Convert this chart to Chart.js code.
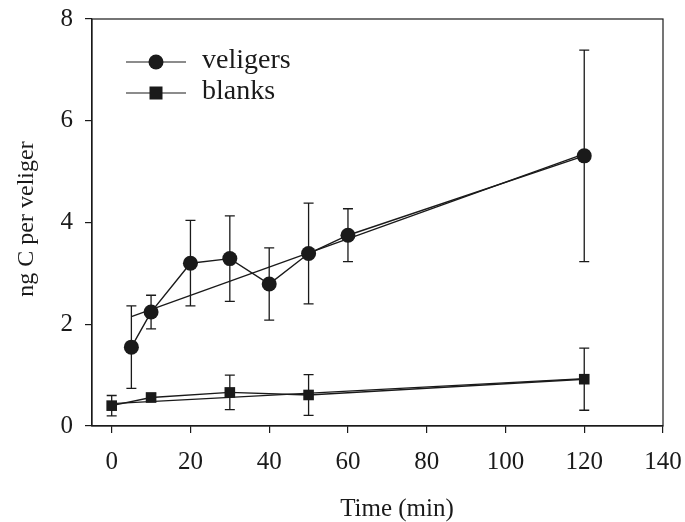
<!DOCTYPE html>
<html>
<head>
<meta charset="utf-8">
<script src="https://cdn.jsdelivr.net/npm/chart.js@4.4.1/dist/chart.umd.min.js"></script>
<style>
  html, body { margin: 0; padding: 0; background: #fff; }
  #wrap { width: 685px; height: 522px; }
</style>
</head>
<body>
<div id="wrap"><canvas id="c" width="685" height="522"></canvas></div>
<script>
// ---- data ----
const veligerTimes = [5, 10, 20, 30, 40, 50, 60, 120];
const veligerMeans = [1.55, 2.24, 3.20, 3.29, 2.79, 3.39, 3.75, 5.31];
const veligerErr   = [0.81, 0.33, 0.84, 0.84, 0.71, 0.99, 0.52, 2.08];
const veligerFitX  = [5, 120];
const veligerFitY  = [2.15, 5.35];

const blankTimes = [0, 10, 30, 50, 120];
const blankMeans = [0.40, 0.56, 0.66, 0.61, 0.92];
const blankErr   = [0.20, 0.08, 0.34, 0.40, 0.61];
const blankFitX  = [0, 120];
const blankFitY  = [0.44, 0.93];

const xTicks = [0, 20, 40, 60, 80, 100, 120, 140];
const yTicks = [0, 2, 4, 6, 8];
const seriesNames = ['veligers', 'blanks'];
const xTitle = 'Time (min)';
const yTitle = 'ng C per veliger';

const INK = '#1a1a1a';
const FONT = '"Liberation Serif", "Times New Roman", serif';

function pts(xs, ys) { return xs.map((x, i) => ({ x: x, y: ys[i] })); }

const errorBars = {
  id: 'errorBars',
  beforeDatasetsDraw(chart) {
    const ctx = chart.ctx, xs = chart.scales.x, ys = chart.scales.y;
    ctx.save();
    ctx.strokeStyle = INK;
    ctx.lineWidth = 1.3;
    const sets = [[veligerTimes, veligerMeans, veligerErr], [blankTimes, blankMeans, blankErr]];
    sets.forEach(([t, m, e]) => {
      t.forEach((tv, i) => {
        const px = xs.getPixelForValue(tv);
        const top = ys.getPixelForValue(m[i] + e[i]);
        const bot = ys.getPixelForValue(m[i] - e[i]);
        ctx.beginPath();
        ctx.moveTo(px, top); ctx.lineTo(px, bot);
        ctx.moveTo(px - 5, top); ctx.lineTo(px + 5, top);
        ctx.moveTo(px - 5, bot); ctx.lineTo(px + 5, bot);
        ctx.stroke();
      });
    });
    ctx.restore();
  }
};

const frame = {
  id: 'frame',
  afterDraw(chart) {
    const ctx = chart.ctx, a = chart.chartArea;
    ctx.save();
    ctx.strokeStyle = INK;
    ctx.lineWidth = 1.2;
    ctx.strokeRect(a.left, a.top, a.right - a.left, a.bottom - a.top);

    // legend
    const rows = [{ y: 62, style: 'circle' }, { y: 93, style: 'rect' }];
    rows.forEach((r, i) => {
      ctx.beginPath();
      ctx.lineWidth = 1.2;
      ctx.moveTo(126, r.y); ctx.lineTo(186, r.y);
      ctx.stroke();
      ctx.fillStyle = INK;
      if (r.style === 'circle') {
        ctx.beginPath(); ctx.arc(156, r.y, 7.5, 0, Math.PI * 2); ctx.fill();
      } else {
        ctx.fillRect(156 - 6.5, r.y - 6.5, 13, 13);
      }
      ctx.font = '28px ' + FONT;
      ctx.textAlign = 'left';
      ctx.textBaseline = 'middle';
      ctx.fillText(seriesNames[i], 202, r.y - 1);
    });

    // axis titles
    ctx.fillStyle = INK;
    ctx.font = '25px ' + FONT;
    ctx.textAlign = 'center';
    ctx.textBaseline = 'alphabetic';
    ctx.fillText(xTitle, 397, 516);
    ctx.font = '24px ' + FONT;
    ctx.textBaseline = 'middle';
    ctx.save();
    ctx.translate(27, 219);
    ctx.rotate(-Math.PI / 2);
    ctx.fillText(yTitle, 0, 0);
    ctx.restore();
    ctx.restore();
  }
};

function zeroPad(s) { s.paddingLeft = 0; s.paddingRight = 0; s.paddingTop = 0; s.paddingBottom = 0; }

new Chart(document.getElementById('c'), {
  type: 'scatter',
  data: {
    datasets: [
      { label: 'veligers fit', data: pts(veligerFitX, veligerFitY), showLine: true,
        borderColor: INK, borderWidth: 1.3, pointRadius: 0, order: 2 },
      { label: 'blanks fit', data: pts(blankFitX, blankFitY), showLine: true,
        borderColor: INK, borderWidth: 1.3, pointRadius: 0, order: 2 },
      { label: seriesNames[0], data: pts(veligerTimes, veligerMeans), showLine: true,
        borderColor: INK, borderWidth: 1.4, pointStyle: 'circle', pointRadius: 7.5,
        pointBackgroundColor: INK, pointBorderColor: INK, pointBorderWidth: 0, order: 1 },
      { label: seriesNames[1], data: pts(blankTimes, blankMeans), showLine: true,
        borderColor: INK, borderWidth: 1.4, pointStyle: 'rect', pointRadius: 7.5,
        pointBackgroundColor: INK, pointBorderColor: INK, pointBorderWidth: 0, order: 1 }
    ]
  },
  options: {
    responsive: false,
    animation: false,
    devicePixelRatio: 1,
    layout: { padding: { top: 19, right: 22, left: 0, bottom: 0 } },
    plugins: { legend: { display: false }, tooltip: { enabled: false } },
    scales: {
      x: {
        type: 'linear', min: -5, max: 140,
        afterBuildTicks(s) { s.ticks = xTicks.map(v => ({ value: v })); },
        afterFit(s) { s.height = 96; zeroPad(s); },
        grid: { drawOnChartArea: false, drawTicks: true, tickLength: 7, color: INK, lineWidth: 1.2 },
        border: { display: true, color: INK, width: 1.2 },
        ticks: { color: INK, font: { family: FONT, size: 25 }, padding: 14, maxRotation: 0, autoSkip: false }
      },
      y: {
        type: 'linear', min: 0, max: 8,
        afterBuildTicks(s) { s.ticks = yTicks.map(v => ({ value: v })); },
        afterFit(s) { s.width = 92; zeroPad(s); },
        grid: { drawOnChartArea: false, drawTicks: true, tickLength: 7, color: INK, lineWidth: 1.2 },
        border: { display: true, color: INK, width: 1.2 },
        ticks: { color: INK, font: { family: FONT, size: 25 }, padding: 12, autoSkip: false }
      }
    }
  },
  plugins: [errorBars, frame]
});
</script>
</body>
</html>
